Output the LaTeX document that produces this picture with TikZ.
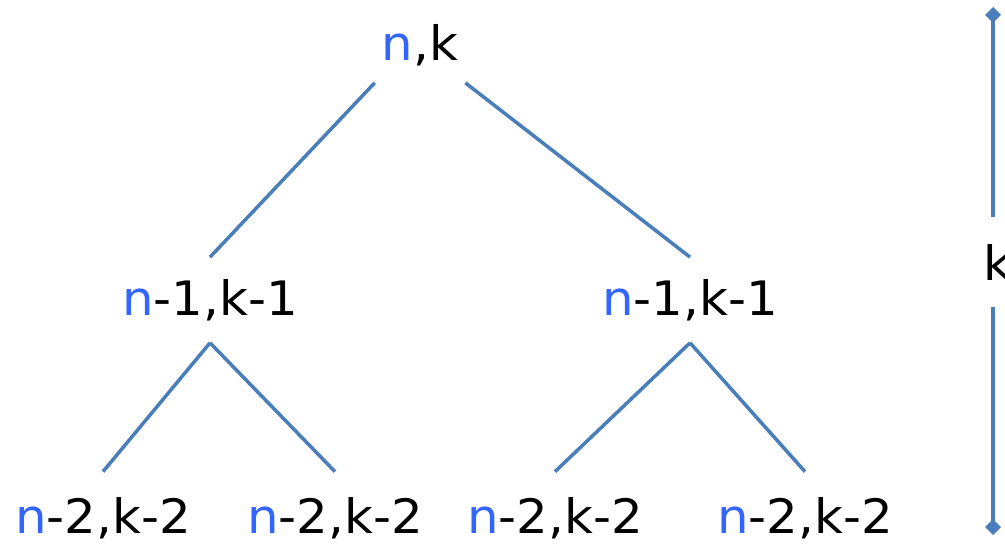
\documentclass[tikz,border=0pt]{standalone}
\usepackage{fontspec}
\setmainfont{DejaVu Sans}[FakeStretch=1.05]
\usetikzlibrary{arrows.meta}

\definecolor{nblue}{RGB}{51,102,255}
\definecolor{edgeblue}{RGB}{74,126,187}

% label "n<a>,k<b>" with a blue n
\newcommand{\nklabel}[2]{\textcolor{nblue}{n}#1,k#2}

\begin{document}
\begin{tikzpicture}[
  lbl/.style={font=\fontsize{27}{32}\selectfont,inner sep=0pt},
  edge/.style={edgeblue,line width=2pt},
]
\useasboundingbox (0,0) rectangle (20.1,10.92);

% Root
\node[lbl,minimum width=1.8cm,minimum height=1.5cm] (root) at (8.4,10.02) {\nklabel{}{}};

% Level 1
\node[lbl,minimum height=1.7cm] (a) at (4.2,4.92) {\nklabel{-1}{-1}};
\node[lbl,minimum height=1.7cm] (b) at (13.8,4.92) {\nklabel{-1}{-1}};

% Level 2
\node[lbl,minimum height=1.84cm] (aa) at (2.06,0.56) {\nklabel{-2}{-2}};
\node[lbl,minimum height=1.84cm] (ab) at (6.7,0.56) {\nklabel{-2}{-2}};
\node[lbl,minimum height=1.84cm] (ba) at (11.1,0.56) {\nklabel{-2}{-2}};
\node[lbl,minimum height=1.84cm] (bb) at (16.1,0.56) {\nklabel{-2}{-2}};

% Edges
\draw[edge] (root.south west) -- (a.north);
\draw[edge] (root.south east) -- (b.north);
\draw[edge] (a.south) -- (aa.north);
\draw[edge] (a.south) -- (ab.north);
\draw[edge] (b.south) -- (ba.north);
\draw[edge] (b.south) -- (bb.north);

% Depth marker
\coordinate (mtop) at (19.86,10.78);
\coordinate (mbot) at (19.86,0.22);
\node[lbl,minimum height=1.8cm] (depth) at (19.95,5.68) {k};
\draw[edge,-{Diamond[length=9pt,width=9pt]}] (depth.north -| mtop) -- (mtop);
\draw[edge,-{Diamond[length=9pt,width=9pt]}] (depth.south -| mbot) -- (mbot);

\end{tikzpicture}
\end{document}
